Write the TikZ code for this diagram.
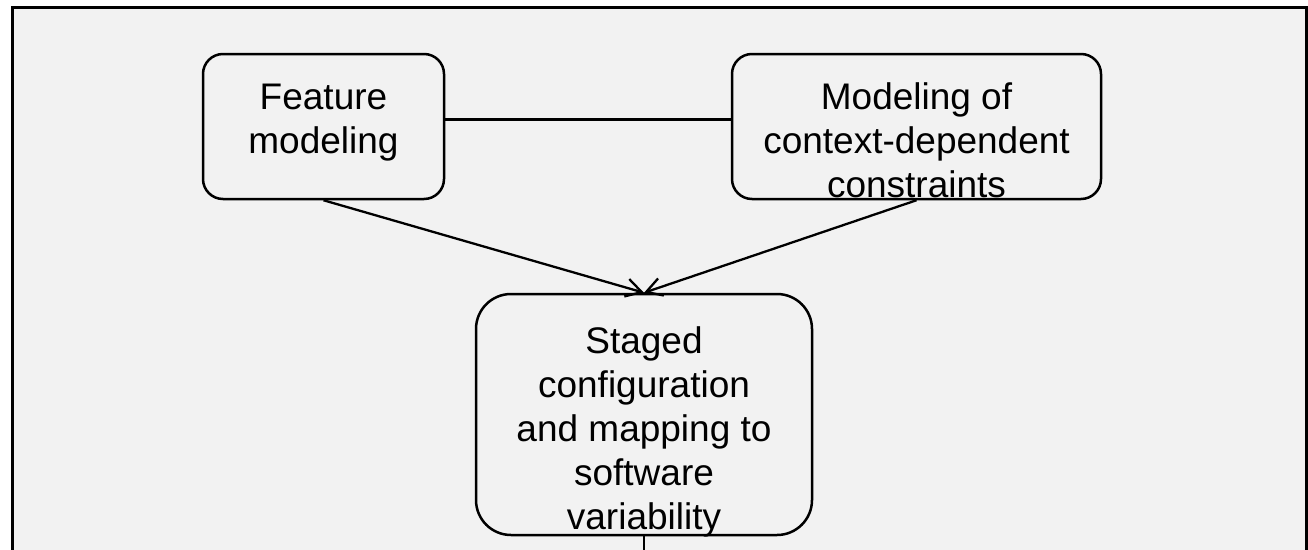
\documentclass[tikz,border=0pt]{standalone}
\usepackage{fontspec}
\setmainfont{Liberation Sans}
\usetikzlibrary{arrows.meta}
\definecolor{panelgray}{HTML}{F2F2F2}
\tikzset{
  stage/.style={draw, line width=2.5pt, fill=panelgray, inner sep=0pt},
  caption/.style={align=center, inner sep=0pt, anchor=north, font=\fontsize{37}{44}\selectfont},
  link/.style={line width=2.3pt},
  flow/.style={line width=2.3pt, -{Straight Barb[angle=60:18pt]}}
}
\begin{document}
\begin{tikzpicture}[x=1pt,y=-1pt]
  \useasboundingbox (0,0) rectangle (1308,549);
  % panel, open at the bottom
  \fill[panelgray] (12,7) rectangle (1306,560);
  \draw[line width=3pt] (12,560) -- (12,7) -- (1306,7) -- (1306,560);
  % stages
  \node[stage, rounded corners=20pt, minimum width=241pt, minimum height=145pt] (feat) at (323.5,126.5) {};
  \node[stage, rounded corners=20pt, minimum width=369pt, minimum height=145pt] (ctx) at (916.5,126.5) {};
  \node[stage, rounded corners=35pt, minimum width=336pt, minimum height=241pt] (staged) at (644,414.5) {};
  \coordinate (out) at (644,560);
  % connectors
  \draw[link] ([yshift=7pt]feat.east) -- ([yshift=7pt]ctx.west);
  \draw[flow] (feat.south) -- (staged.north);
  \draw[flow] (ctx.south) -- (staged.north);
  \draw[link] (staged.south) -- (out);
  % texts
  \node[caption] (featT) at ([yshift=-31pt]feat.north) {Feature\\modeling};
  \node[caption] (ctxT) at ([yshift=-30pt]ctx.north) {Modeling of\\context-dependent\\constraints};
  \node[caption] (stagedT) at ([yshift=-34pt]staged.north) {Staged\\configuration\\and mapping to\\software\\variability};
\end{tikzpicture}
\end{document}
